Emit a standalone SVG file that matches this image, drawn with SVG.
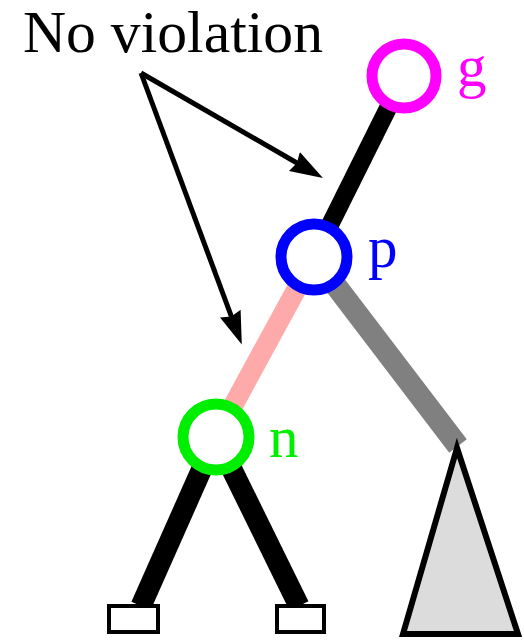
<svg xmlns="http://www.w3.org/2000/svg" width="524" height="640" viewBox="0 0 524 640">
<defs>
<marker id="ah" markerWidth="34" markerHeight="24" refX="25" refY="12" orient="auto" markerUnits="userSpaceOnUse">
<path d="M0,1 L33,12 L0,23 L3,12 Z" fill="#000"/>
</marker>
<style>
.lbl{font-family:"Liberation Serif","Times New Roman",serif;font-size:59px}
.node{fill:#fff;stroke-width:11}
.leaf{fill:#fff;stroke:#000;stroke-width:4}
.arr{stroke:#000;stroke-width:5;fill:none}
</style>
</defs>
<rect width="524" height="640" fill="#fff"/>
<g id="connectors" fill="none">
<line x1="404" y1="76" x2="314" y2="257" stroke="#000" stroke-width="18"/>
<line x1="314" y1="257" x2="216" y2="437" stroke="#ffaaaa" stroke-width="20"/>
<line x1="314" y1="257" x2="458" y2="446" stroke="#808080" stroke-width="22"/>
<line x1="216" y1="437" x2="141" y2="606" stroke="#000" stroke-width="21"/>
<line x1="216" y1="437" x2="299" y2="606" stroke="#000" stroke-width="21"/>
<line class="arr" x1="141" y1="73" x2="316" y2="174" marker-end="url(#ah)"/>
<line class="arr" x1="141" y1="73" x2="239" y2="337" marker-end="url(#ah)"/>
</g>
<g id="label"><text class="lbl" x="23" y="52" fill="#000" textLength="300" lengthAdjust="spacingAndGlyphs">No violation</text></g>
<g id="g"><circle class="node" cx="404" cy="76" r="32" stroke="#ff00ff"/><text class="lbl" x="457" y="86" fill="#ff00ff">g</text></g>
<g id="p"><circle class="node" cx="314" cy="257" r="33" stroke="#0000ff"/><text class="lbl" x="368" y="267" fill="#0000ff">p</text></g>
<g id="n"><circle class="node" cx="216" cy="437" r="33" stroke="#00ee00"/><text class="lbl" x="269" y="457" fill="#00ee00">n</text></g>
<g id="subtree"><polygon points="457,448 403,634 518,634" fill="#dcdcdc" stroke="#000" stroke-width="6" stroke-linejoin="miter"/></g>
<g id="leaf1"><rect class="leaf" x="109" y="606" width="49" height="26"/></g>
<g id="leaf2"><rect class="leaf" x="277" y="606" width="47" height="26"/></g>
</svg>
